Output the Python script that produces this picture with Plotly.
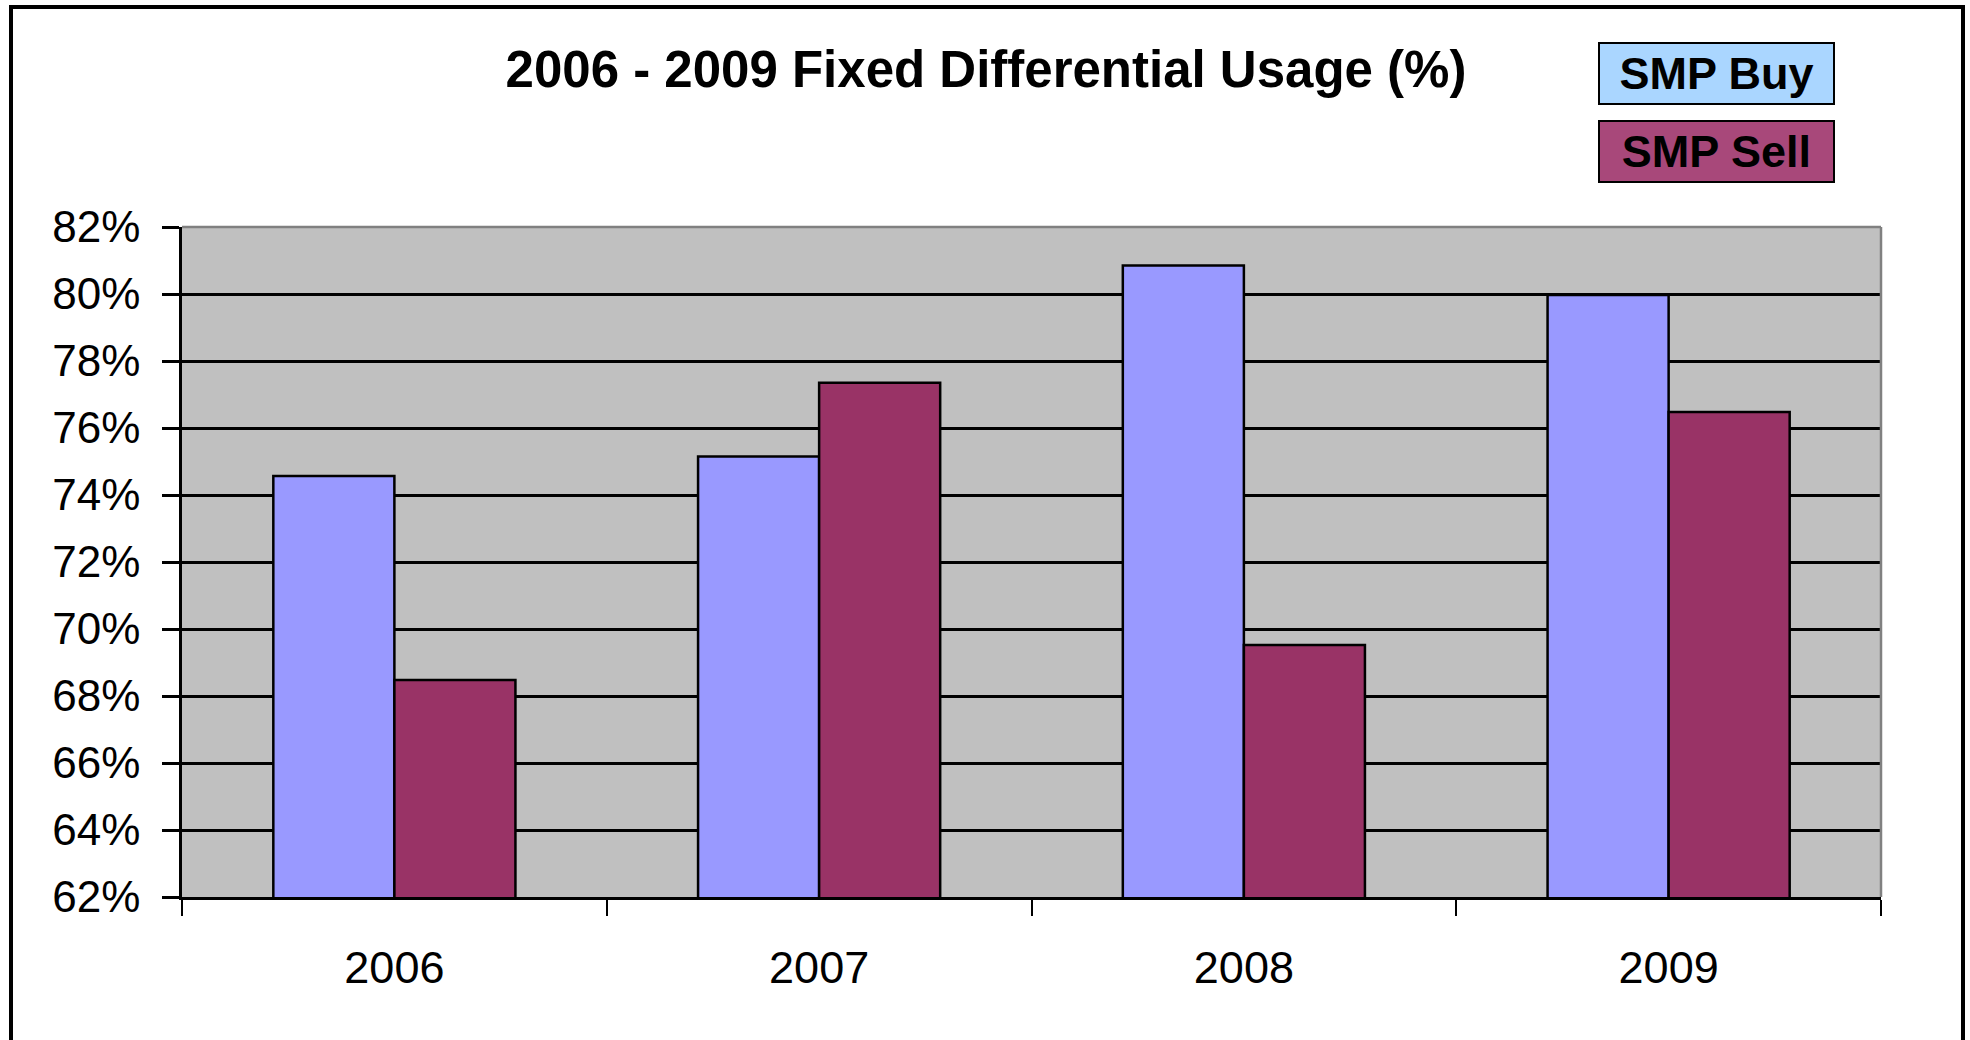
import plotly.graph_objects as go

years = ["2006", "2007", "2008", "2009"]
series_names = ["SMP Buy", "SMP Sell"]
smp_buy = [74.57, 75.15, 80.85, 79.97]
smp_sell = [68.48, 77.35, 69.52, 76.48]
y_ticks = [62, 64, 66, 68, 70, 72, 74, 76, 78, 80, 82]
y_tick_labels = ["62%", "64%", "66%", "68%", "70%", "72%", "74%", "76%", "78%", "80%", "82%"]
title_text = "2006 - 2009 Fixed Differential Usage (%)"

W, H = 1970, 1040
L, R, T, B = 182, 89, 227, 143
pw, ph = W - L - R, H - T - B

def px(x):
    return (x - L) / pw

def py(y):
    return (H - B - y) / ph

FONT = "Liberation Sans, Arial, sans-serif"

fig = go.Figure()
fig.add_trace(go.Bar(x=years, y=smp_buy, name=series_names[0],
                     marker=dict(color="#9999FF", line=dict(color="black", width=2.5))))
fig.add_trace(go.Bar(x=years, y=smp_sell, name=series_names[1],
                     marker=dict(color="#993366", line=dict(color="black", width=2.5))))

fig.update_layout(
    width=W, height=H, autosize=False,
    margin=dict(l=L, r=R, t=T, b=B, pad=0),
    paper_bgcolor="white", plot_bgcolor="#C0C0C0",
    barmode="group", bargap=0.43, bargroupgap=0,
    showlegend=False,
    font=dict(family=FONT, color="black"),
    title=dict(text="<b>" + title_text + "</b>", x=986 / W, xanchor="center",
               y=1 - 69 / H, yanchor="middle", yref="container",
               font=dict(size=51, family=FONT, color="black")),
)

fig.update_yaxes(
    range=[62, 82], tickmode="array", tickvals=y_ticks, ticktext=y_tick_labels,
    showgrid=True, gridcolor="black", gridwidth=2.5,
    showline=True, linecolor="black", linewidth=2.5,
    ticks="outside", ticklen=17, tickwidth=2.5, tickcolor="black",
    tickfont=dict(size=44, family=FONT, color="black"),
    ticklabelstandoff=13, zeroline=False,
)
fig.update_xaxes(
    type="category", showgrid=False,
    showline=True, linecolor="black", linewidth=3,
    ticks="outside", ticklen=16, tickwidth=2, tickcolor="black",
    tickson="boundaries",
    tickfont=dict(size=45, family=FONT, color="black"),
    ticklabelstandoff=29,
)

# grey top and right edges of the plot area
fig.add_shape(type="line", xref="paper", yref="paper", x0=0, x1=1, y0=1, y1=1,
              line=dict(color="#808080", width=2.5), layer="above")
fig.add_shape(type="line", xref="paper", yref="paper", x0=1, x1=1, y0=0, y1=1,
              line=dict(color="#808080", width=2.5), layer="above")

# outer frame of the chart
fig.add_shape(type="rect", xref="paper", yref="paper",
              x0=px(11), x1=px(1963), y0=py(7), y1=py(1060),
              line=dict(color="black", width=4), fillcolor="rgba(0,0,0,0)")

# legend boxes
legend_colors = ["#AAD6FF", "#A8487A"]
legend_y = [73.5, 151.5]
for name, col, yc in zip(series_names, legend_colors, legend_y):
    fig.add_annotation(
        xref="paper", yref="paper", x=px(1716.5), y=py(yc),
        xanchor="center", yanchor="middle",
        text="<b>" + name + "</b>", showarrow=False,
        width=231, height=57, bgcolor=col, bordercolor="black", borderwidth=2,
        font=dict(size=45, family=FONT, color="black"), align="center",
    )

fig.write_html("out.html")
